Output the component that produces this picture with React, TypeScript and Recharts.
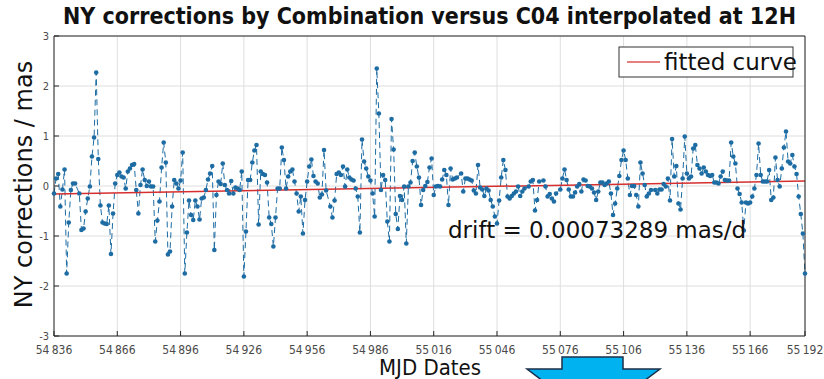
import React from 'react'
import { LineChart, Line, XAxis, YAxis, CartesianGrid } from 'recharts'

const MJD_START = 54836
const xTicks = [54836, 54866, 54896, 54926, 54956, 54986, 55016, 55046, 55076, 55106, 55136, 55166, 55192]
const yTicks = [-3, -2, -1, 0, 1, 2, 3]

// NY corrections (mas), one value per day from MJD_START; null = no point seen that day
const nyCorrections: (number | null)[] = [
  -0.15, 0.15, 0.24, -0.41, -0.07, 0.33, -1.75, -0.73, -0.08, 0.05,
  0.05, null, -0.15, -0.88, -0.85, -0.51, -0.25, -0.01, 0.59, 0.97,
  2.27, 0.54, -0.39, -0.73, -0.75, -0.76, -0.39, -1.36, -0.55, 0.05,
  0.22, 0.27, 0.19, 0.17, -0.05, 0.29, 0.35, 0.42, 0.44, -0.08,
  -0.55, 0.02, 0.33, 0.12, 0.0, 0.09, -0.01, -0.01, -1.11, -0.69,
  -0.31, 0.37, 0.87, 0.47, -1.37, -1.31, -0.41, 0.12, 0.05, -0.05,
  0.11, 0.67, -1.75, -0.93, -0.29, -0.58, -0.68, -0.29, -0.41, -0.67,
  -0.25, -0.23, -0.08, 0.13, 0.25, 0.4, -1.28, -0.18, 0.09, 0.04,
  0.45, 0.02, -0.08, -0.15, 0.1, -0.15, -0.03, -0.05, -0.08, 0.29,
  -1.81, -0.91, 0.12, 0.12, 0.47, 0.71, 0.82, -0.77, 0.29, 0.24,
  0.22, 0.07, -0.63, -0.76, -1.21, -0.63, -0.05, -0.05, 0.77, 0.52,
  -0.05, 0.19, 0.29, 0.33, 0.09, -0.15, -0.51, -0.21, -0.95, -0.28,
  0.09, 0.39, 0.53, 0.2, 0.09, 0.05, -0.23, -0.17, 0.72, -0.09,
  null, -0.41, -0.63, -0.29, 0.24, 0.27, 0.22, 0.39, -0.01, 0.33,
  0.17, 0.13, 0.11, -0.05, -0.21, -0.93, 0.93, 0.49, 0.35, 0.19,
  0.11, -0.15, -0.61, 2.35, 1.45, -0.08, 0.22, 0.12, -0.71, -1.11,
  1.34, 0.73, -0.56, -0.86, -0.2, -0.28, -0.01, -1.15, -0.01, 0.07,
  0.5, 0.67, 0.39, 0.17, -0.38, -0.08, 0.0, 0.08, 0.37, 0.55,
  -0.18, -0.01, 0.0, -0.01, 0.13, 0.32, 0.22, -0.38, 0.35, 0.13,
  0.15, 0.17, null, 0.25, -0.11, 0.15, 0.15, 0.13, 0.11, -0.09,
  -0.15, 0.42, -0.03, -0.07, -0.2, -0.05, -0.09, -0.28, -0.41, -0.61,
  -0.75, -0.29, 0.17, 0.52, 0.32, -0.21, -0.25, -0.2, -0.15, -0.11,
  -0.01, -0.2, -0.11, -0.05, null, -0.01, 0.09, 0.12, -0.49, -0.28,
  0.09, null, 0.11, -0.01, -0.21, -0.16, -0.25, -0.31, -0.15, null,
  -0.07, 0.15, 0.33, 0.12, -0.07, -0.21, -0.21, -0.13, -0.01, 0.04,
  -0.11, 0.13, 0.11, 0.0, -0.01, -0.05, -0.13, -0.28, -0.11, 0.07,
  0.07, 0.02, 0.05, 0.09, -0.15, -0.58, -0.35, -0.05, 0.2, 0.52,
  0.71, 0.52, 0.15, -0.18, 0.0, 0.0, -0.18, -0.41, 0.47, 0.25,
  0.02, -0.21, -0.15, -0.08, null, -0.08, -0.15, -0.07, -0.07, 0.04,
  -0.01, 0.15, -0.29, 0.94, 0.19, 0.4, -0.35, -0.47, 0.15, 0.99,
  0.25, 0.15, 0.19, 0.75, 0.82, 0.42, 0.35, 0.25, 0.37, 0.29,
  0.22, 0.2, 0.22, 0.07, 0.07, 0.05, 0.19, 0.29, 0.12, 0.11,
  0.11, 0.87, 0.59, 0.45, -0.05, -0.16, -0.33, -0.89, -0.33, -0.35,
  -0.33, -0.21, -0.05, 0.22, 0.85, 0.22, 0.09, 0.09, 0.09, 0.32,
  -0.28, -0.23, 0.57, 0.12, -0.01, 0.35, 0.77, 1.09, 0.49, 0.45,
  0.62, 0.39, 0.24, -0.21, -0.56, -0.95, -1.75,
]

// straight fitted line (drift 0.00073289 mas/d)
const fitDates = [54836, 55192]
const fitValues = [-0.16, 0.1]

const seriesData = nyCorrections.map((v, i) => ({ mjd: MJD_START + i, ny: v }))
const fitData = fitDates.map((d, i) => ({ mjd: d, fit: fitValues[i] }))

const BLUE = '#1d6ca3'
const AXIS = '#262626'
const tickFont = { fontFamily: 'DejaVu Sans Condensed', fontSize: 12, fill: '#4a4a4a' }
const yTickFont = { fontFamily: 'DejaVu Sans Condensed', fontSize: 11, fill: '#4a4a4a' }
const fmtX = (v: number) => {
  const s = String(v)
  return s.slice(0, 2) + '\u2009' + s.slice(2)
}

export default function App() {
  return (
    <div style={{ position: 'absolute', left: 0, top: 0, width: 824, height: 379, background: '#fff' }}>
      <LineChart
        width={824}
        height={379}
        data={seriesData}
        margin={{ top: 31, right: 14, bottom: 23, left: 24 }}
      >
        <CartesianGrid stroke="#dedede" />
        <XAxis
          dataKey="mjd"
          type="number"
          domain={[54836, 55192]}
          ticks={xTicks}
          interval={0}
          height={20}
          tickFormatter={fmtX}
          tick={tickFont}
          tickSize={-5}
          tickMargin={14}
          axisLine={{ stroke: AXIS }}
          tickLine={{ stroke: AXIS }}
        />
        <XAxis
          xAxisId="top"
          orientation="top"
          dataKey="mjd"
          type="number"
          domain={[54836, 55192]}
          ticks={xTicks}
          interval={0}
          height={5}
          tick={false}
          tickSize={-5}
          axisLine={{ stroke: AXIS }}
          tickLine={{ stroke: AXIS }}
        />
        <YAxis
          type="number"
          domain={[-3, 3]}
          ticks={yTicks}
          interval={0}
          width={30}
          tick={yTickFont}
          tickSize={-5}
          tickMargin={10}
          axisLine={{ stroke: AXIS }}
          tickLine={{ stroke: AXIS }}
        />
        <YAxis
          yAxisId="right"
          orientation="right"
          type="number"
          domain={[-3, 3]}
          ticks={yTicks}
          interval={0}
          width={5}
          tick={false}
          tickSize={-5}
          axisLine={{ stroke: AXIS }}
          tickLine={{ stroke: AXIS }}
        />
        <Line
          dataKey="ny"
          stroke={BLUE}
          strokeWidth={1}
          strokeDasharray="6 4"
          connectNulls
          dot={{ r: 2.3, fill: BLUE, stroke: 'none' }}
          isAnimationActive={false}
        />
        <Line
          data={fitData}
          dataKey="fit"
          stroke="#d62f2f"
          strokeWidth={1.5}
          dot={false}
          isAnimationActive={false}
        />
      </LineChart>

      <svg
        width={824}
        height={379}
        style={{ position: 'absolute', left: 0, top: 0, pointerEvents: 'none' }}
      >
        <text x={429.5} y={24} textAnchor="middle" fontFamily="DejaVu Sans Condensed" fontWeight="bold" fontSize={23} fill="#111">
          NY corrections by Combination versus C04 interpolated at 12H
        </text>
        <text transform="translate(32,184.5) rotate(-90)" textAnchor="middle" fontFamily="DejaVu Sans" fontSize={24} fill="#111">
          NY corrections / mas
        </text>
        <text x={430} y={375} textAnchor="middle" fontFamily="DejaVu Sans Condensed" fontSize={22} fill="#111">
          MJD Dates
        </text>
        <text x={448} y={238} fontFamily="DejaVu Sans" fontSize={23} fill="#111">
          drift = 0.00073289 mas/d
        </text>
        <rect x={619} y={47} width={174} height={30} fill="#fff" stroke="#333" strokeWidth={1} />
        <line x1={627} x2={660} y1={62} y2={62} stroke="#e05555" strokeWidth={1.5} />
        <text x={664} y={70} fontFamily="DejaVu Sans" fontSize={23} fill="#111">
          fitted curve
        </text>
        <polygon
          points="562,357 623,357 623,369 660,369 593,419 527,369 562,369"
          fill="#00b2f0"
          stroke="#1c2f4a"
          strokeWidth={1.5}
        />
      </svg>
    </div>
  )
}
